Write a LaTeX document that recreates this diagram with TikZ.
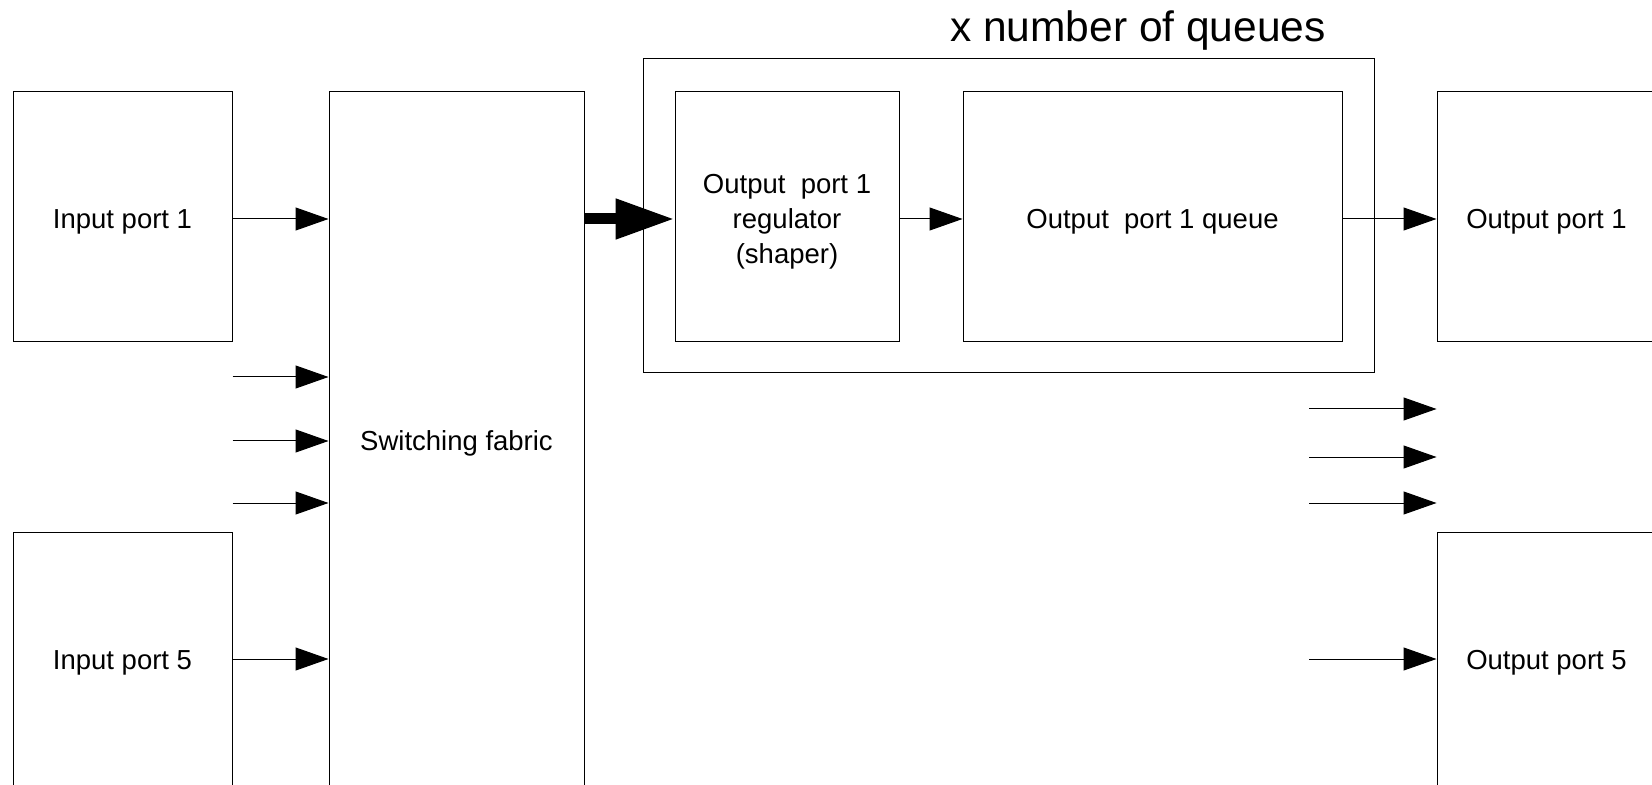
\documentclass[tikz,border=0pt]{standalone}
\usepackage{fontspec}
\setmainfont{Liberation Sans}
\usetikzlibrary{arrows.meta,positioning}

\begin{document}
\begin{tikzpicture}[
        x=0.5pt, y=-0.5pt,
        box/.style={draw, line width=0.5pt, inner sep=0pt, align=center,
            text height=12pt, text depth=0pt, minimum width=109.5pt, minimum height=125pt},
        every node/.style={font=\fontsize{13.75pt}{17.5pt}\selectfont},
        arr/.style={line width=0.5pt, -{Triangle[length=16.5pt, width=11.5pt]}},
        fat arr/.style={line width=5.5pt, -{Triangle[length=29.5pt, width=19pt]}},
    ]
    \clip (0,0) rectangle (1652,785);
    \coordinate (row1) at (0,219);

    % input side
    \node[box] (in1) at (122.5,217) {Input port 1};
    \node[box, text height=10pt, minimum height=127pt] (in5) at (122.5,659) {Input port 5};
    \node[box, text height=10pt, minimum width=127.5pt, minimum height=349pt] (fabric) at (456.5,441) {Switching fabric};

    % queues
    \node[box, minimum width=365.5pt, minimum height=157pt] (group) at (1008.5,216) {};
    \node[box, text height=47pt, minimum width=112pt] (reg) at (787,217) {Output\ \ port 1\\regulator\\(shaper)};
    \node[box, minimum width=189.5pt] (queue) at (1152.5,217) {Output\ \ port 1 queue};
    \node[font=\fontsize{21.25pt}{25pt}\selectfont] (title) at (1138,31) {x number of queues};

    % output side
    \node[box] (out1) at (1546.5,217) {Output port 1};
    \node[box, text height=10pt, minimum height=127pt] (out5) at (1546.5,659) {Output port 5};

    \draw[arr] (in1.east |- row1) -- (fabric.west |- row1);
    \draw[arr] (in5) -- (fabric.west |- in5);
    \foreach \y [count=\i] in {377,441,503} {
        \coordinate (lfree\i) at (in1.east |- 0,\y);
        \draw[arr] (lfree\i) -- (lfree\i -| fabric.west);
    }

    \draw[fat arr] (fabric.east |- row1) -- (reg.west |- row1);
    \draw[arr] (reg.east |- row1) -- (queue.west |- row1);
    \draw[arr] (queue.east |- row1) -- (out1.west |- row1);

    \foreach \y [count=\i] in {409,457,503} {
        \coordinate (rfree\i) at (1309,\y);
        \draw[arr] (rfree\i) -- (rfree\i -| out1.west);
    }
    \coordinate (rfree5) at (1309,659);
    \draw[arr] (rfree5) -- (out5);
\end{tikzpicture}
\end{document}
